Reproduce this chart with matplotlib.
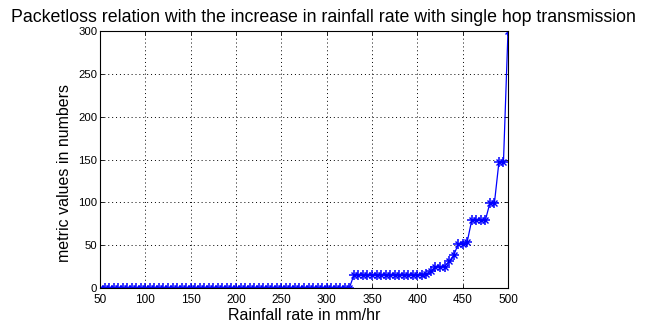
import matplotlib
matplotlib.use("Agg")
import matplotlib.pyplot as plt

rain_rate = [50, 55, 60, 65, 70, 75, 80, 85, 90, 95,
             100, 105, 110, 115, 120, 125, 130, 135, 140, 145,
             150, 155, 160, 165, 170, 175, 180, 185, 190, 195,
             200, 205, 210, 215, 220, 225, 230, 235, 240, 245,
             250, 255, 260, 265, 270, 275, 280, 285, 290, 295,
             300, 305, 310, 315, 320, 325, 330, 335, 340, 345,
             350, 355, 360, 365, 370, 375, 380, 385, 390, 395,
             400, 405, 410, 415, 420, 425, 430, 435, 440, 445,
             450, 455, 460, 465, 470, 475, 480, 485, 490, 495,
             500]
packet_loss = [0, 0, 0, 0, 0, 0, 0, 0, 0, 0,
               0, 0, 0, 0, 0, 0, 0, 0, 0, 0,
               0, 0, 0, 0, 0, 0, 0, 0, 0, 0,
               0, 0, 0, 0, 0, 0, 0, 0, 0, 0,
               0, 0, 0, 0, 0, 0, 0, 0, 0, 0,
               0, 0, 0, 0, 0, 0, 15, 15, 15, 15,
               15, 15, 15, 15, 15, 15, 15, 15, 15, 15,
               15, 15, 16, 20, 25, 25, 25, 31, 38, 51,
               51, 54, 79, 79, 79, 79, 99, 99, 147, 147,
               300]
x_ticks = [50, 100, 150, 200, 250, 300, 350, 400, 450, 500]
y_ticks = [0, 50, 100, 150, 200, 250, 300]
title = "Packetloss relation with the increase in rainfall rate with single hop transmission"
x_label = "Rainfall rate in mm/hr"
y_label = "metric values in numbers"

plt.rcParams['font.family'] = ['Liberation Sans', 'DejaVu Sans']

fig = plt.figure(figsize=(6.46, 3.29), dpi=100)
ax = fig.add_axes([100/646, 1-288/329, 408/646, 257/329])

ax.plot(rain_rate, packet_loss, color=(0, 0, 1), lw=0.9, marker='+', ms=6.5, mew=1.1)
ax.plot(rain_rate, packet_loss, color=(0, 0, 1), lw=0, marker='x', ms=4.8, mew=1.0)

ax.set_xlim(50, 500)
ax.set_ylim(0, 300)
ax.set_xticks(x_ticks)
ax.set_yticks(y_ticks)
ax.tick_params(direction='in', length=3, labelsize=8.5, width=0.6,
               top=True, right=True)
ax.tick_params(axis='x', pad=4.5)
ax.tick_params(axis='y', pad=2, labelsize=8.2)
ax.grid(True, linestyle=(0, (1, 3)), color='black', lw=0.7)
for s in ax.spines.values():
    s.set_linewidth(0.8)

fig.text(0.5, 1 - 22/329, title, fontsize=12.8, ha='center', va='baseline')
ax.set_xlabel(x_label, fontsize=11.5, labelpad=1.5)
ax.set_ylabel(y_label, fontsize=11.5)
ax.yaxis.set_label_coords(-0.068, 0.447)

fig.savefig("out.png", dpi=100)
